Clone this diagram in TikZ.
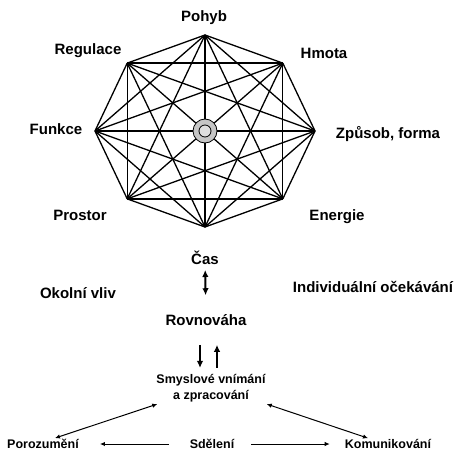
\documentclass[tikz,border=0pt]{standalone}
\usepackage{fontspec}
\setmainfont{Liberation Sans}
\usetikzlibrary{arrows.meta, positioning, calc}

\begin{document}
\begin{tikzpicture}[
  x=1pt, y=-1pt,
  every node/.style={font=\bfseries\fontsize{15}{17}\selectfont, inner sep=1pt},
  small/.style={font=\bfseries\fontsize{12.5}{16}\selectfont, align=center},
  edge/.style={line width=1.3pt, line join=round},
  arrow/.style={-{Latex[length=5pt, width=4.5pt]}, line width=1pt},
  thick arrow/.style={-{Latex[length=7pt, width=6.5pt]}, line width=2pt},
  thick both/.style={{Latex[length=7pt, width=6.5pt]}-{Latex[length=7pt, width=6.5pt]}, line width=2pt},
  both/.style={{Latex[length=5pt, width=4.5pt]}-{Latex[length=5pt, width=4.5pt]}, line width=1pt}
]
\useasboundingbox (0,0) rectangle (460,452);

% octagon corners
\coordinate (c) at (205,131);
\foreach \a [count=\i] in {90,45,0,-45,-90,-135,180,135}
  \coordinate (v\i) at ($(c)+(\a:110pt and 96pt)$);
\foreach \i in {1,...,8}
  \foreach \j in {1,...,8}
    {\ifnum\j>\i \draw[edge] (v\i) -- (v\j);\fi}
\draw[line width=0.8pt, fill=gray!45] (c) circle (12pt);
\draw[line width=0.8pt, fill=gray!25] (c) circle (6pt);

% labels round the octagon
\node (pohyb)    at (204,18)  {Pohyb};
\node (hmota)    at (324,53)  {Hmota};
\node (zpusob)   at (388,134) {Způsob, forma};
\node (energie)  at (337,217) {Energie};
\node (cas)      at (205,258) {Čas};
\node (prostor)  at (80,215)  {Prostor};
\node (funkce)   at (56,129)  {Funkce};
\node (regulace) at (88,51)   {Regulace};

% lower part
\node (okolni)     at (78,293)  {Okolní vliv};
\node (individual) at (373,287) {Individuální očekávání};
\node (rovnovaha)  at (206,320) {Rovnováha};
\node[small] (smysl) at (211,388) {Smyslové vnímání\\a zpracování};
\node[small] (porozumeni)   at (43,444)  {Porozumění};
\node[small] (sdeleni)      at (212,444) {Sdělení};
\node[small] (komunikovani) at (388,444) {Komunikování};

\draw[thick both, shorten <=4pt, shorten >=18pt] (cas) -- (rovnovaha);
\draw[thick arrow, shorten <=18pt, shorten >=5pt] ([xshift=-6pt]rovnovaha.south) -- ([xshift=-6pt]rovnovaha.south |- smysl.north);
\draw[thick arrow, shorten <=5pt, shorten >=18pt] ([xshift=11pt]rovnovaha.south |- smysl.north) -- ([xshift=11pt]rovnovaha.south);
\draw[both] ([xshift=12pt]porozumeni.north) -- ([shift={(2pt,-1pt)}]smysl.south west);
\draw[both] ([shift={(0pt,-1pt)}]smysl.south east) -- ([xshift=-20pt]komunikovani.north);
\draw[arrow, shorten <=20pt, shorten >=20pt] (sdeleni) -- (porozumeni);
\draw[arrow, shorten <=16pt, shorten >=14pt] (sdeleni) -- (komunikovani);
\end{tikzpicture}
\end{document}
